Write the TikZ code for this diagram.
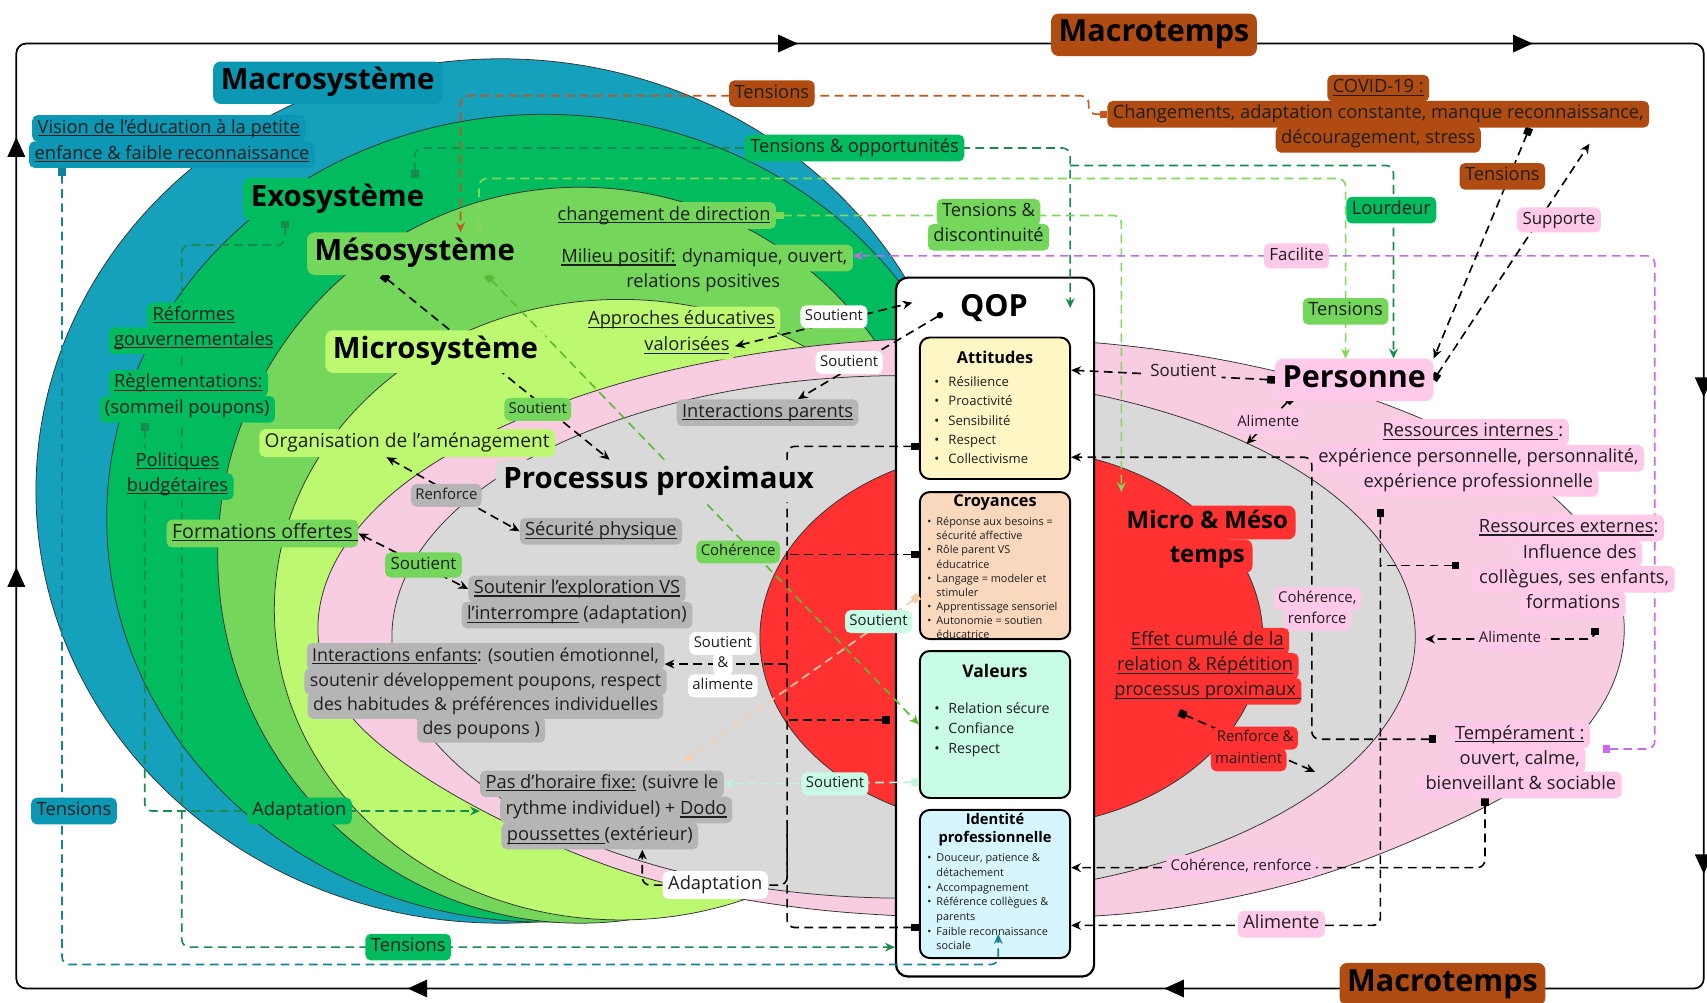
\documentclass[tikz,border=0pt]{standalone}
\usepackage{fontspec}
\setmainfont{Open Sans}
\usetikzlibrary{arrows.meta,decorations.markings,calc}
\pgfdeclarelayer{bg}\pgfdeclarelayer{lines}\pgfsetlayers{bg,lines,main}
\definecolor{macroE}{HTML}{15A0BB}
\definecolor{macroL}{HTML}{0C98B4}
\definecolor{exoE}{HTML}{00BC5E}
\definecolor{mesoE}{HTML}{74D65A}
\definecolor{microE}{HTML}{BDF970}
\definecolor{pinkE}{HTML}{F8CCE1}
\definecolor{pinkL}{HTML}{FFC9E9}
\definecolor{grayE}{HTML}{D9D9D9}
\definecolor{grayL}{HTML}{B5B5B5}
\definecolor{redE}{HTML}{FF3131}
\definecolor{brownL}{HTML}{B04B12}
\definecolor{attC}{HTML}{FFF6C6}
\definecolor{croC}{HTML}{FAD8BE}
\definecolor{valC}{HTML}{C8FCE6}
\definecolor{idC}{HTML}{D6F5FC}
\definecolor{lnDG}{HTML}{178C4C}
\definecolor{lnLG}{HTML}{7FD957}
\definecolor{lnMG}{HTML}{5DBA35}
\definecolor{lnBR}{HTML}{C2561C}
\definecolor{lnTE}{HTML}{13829A}
\definecolor{lnPU}{HTML}{C66CE8}
\definecolor{lnPE}{HTML}{F8CDAA}
\definecolor{lnMI}{HTML}{BDF5DE}
\definecolor{txt}{HTML}{1E1E1E}
\newcommand{\bul}{\makebox[13pt][l]{\textbullet}}
\newcommand{\buls}{\makebox[13pt][c]{\textbullet}}
\newcommand{\cont}{\hspace*{13pt}}
\newcommand{\uln}[1]{\setbox0\hbox{#1}\rlap{\rule[-0.16em]{\wd0}{0.06em}}#1}
\tikzset{
  ell/.style={draw=black!80, line width=0.7pt},
  tag/.style={rounded corners=5pt, inner xsep=5pt, inner ysep=4pt, text height=12.5pt, text depth=4pt, font=\fontsize{16.8}{19}\selectfont, text=txt},
  tagb/.style={tag, font=\fontsize{18}{21}\selectfont, text height=13pt, text depth=4.5pt},
  tagm/.style={tag, font=\fontsize{15.5}{18}\selectfont, text height=11.5pt, text depth=3.5pt},
  tags/.style={tag, font=\fontsize{13.7}{16}\selectfont, text height=10pt, text depth=3pt, inner ysep=4pt, inner xsep=4pt},
  ttl/.style={rounded corners=7pt, inner xsep=7pt, inner ysep=6pt, text height=20pt, text depth=7pt, font=\fontsize{27}{31}\selectfont\bfseries, text=black},
  comp/.style={draw=black, line width=1.8pt, rounded corners=9pt, minimum width=138pt, inner sep=0pt},
  cn/.style={line width=1.5pt, dash pattern=on 8pt off 5pt, rounded corners=7pt},
  sqar/.style={arrows={Square[length=7pt,width=7pt]-Stealth[length=9pt,width=8pt]}},
  sqno/.style={arrows={Square[length=7pt,width=7pt]-}},
  ar/.style={arrows={-Stealth[length=9pt,width=8pt]}},
  arar/.style={arrows={Stealth[length=9pt,width=8pt]-Stealth[length=9pt,width=8pt]}},
  dotar/.style={arrows={Circle[length=6pt]-Stealth[length=9pt,width=8pt]}},
}
\begin{document}
\begin{tikzpicture}[x=1pt,y=-1pt]
\useasboundingbox (0,0) rectangle (1568,921);
\begin{pgfonlayer}{bg}
\fill[white] (0,0) rectangle (1568,921);
\draw[line width=1.6pt, rounded corners=9pt, postaction={decorate}, decoration={markings,
  mark=at position 378pt with {\arrow{Triangle[length=18pt,width=16pt]}},
  mark=at position 773pt with {\arrow{Triangle[length=18pt,width=16pt]}},
  mark=at position 1573pt with {\arrow{Triangle[length=18pt,width=16pt]}},
  mark=at position 2248pt with {\arrow{Triangle[length=18pt,width=16pt]}},
  mark=at position 2726pt with {\arrow{Triangle[length=18pt,width=16pt]}},
  mark=at position 3164pt with {\arrow{Triangle[length=18pt,width=16pt]}},
  mark=at position 3761pt with {\arrow{Triangle[length=18pt,width=16pt]}},
  mark=at position 4456pt with {\arrow{Triangle[length=18pt,width=16pt]}}}]
  (15,908) -- (15,40) -- (1565,40) -- (1565,908) -- cycle;
\draw[ell, fill=macroE] (460,451) ellipse [x radius=427, y radius=397];
\draw[ell, fill=exoE] (500,476) ellipse [x radius=402, y radius=371];
\draw[ell, fill=mesoE] (533,510) ellipse [x radius=333, y radius=338];
\draw[ell, fill=microE] (570,560) ellipse [x radius=318, y radius=285];
\draw[ell, fill=pinkE] plot[smooth cycle, tension=0.6] coordinates {
  (1492,578) (1472,509) (1412,444) (1316,389) (1192,346) (1047,319) (892,310)
  (737,319) (592,346) (468,389) (372,444) (312,509) (292,578) (313,645)
  (370,700) (468,757) (592,806) (737,834) (892,843) (1047,838) (1192,810)
  (1316,764) (1412,712) (1472,647)};
\draw[ell, fill=grayE] (830,585) ellipse [x radius=470, y radius=240];
\draw[ell, fill=redE] (929,586) ellipse [x radius=231, y radius=174];
% QOP
\node[draw=black, line width=2pt, rounded corners=11pt, fill=white, minimum width=182pt, minimum height=642pt, inner sep=0pt] (qop) at (914,576) {};
\node[font=\fontsize{28}{32}\selectfont\bfseries, text=black] (qopT) at (913,283) {QOP};
\node[comp, fill=attC, minimum height=130pt] (attitudes) at (914,375) {};
\node[font=\fontsize{15}{18}\selectfont\bfseries] (attT) at (914,328) {Attitudes};
\node[anchor=north west, inner sep=0pt, align=left, font=\fontsize{12}{17.5}\selectfont, text=txt] (attL) at (858,346) {\bul Résilience\\ \bul Proactivité\\ \bul Sensibilité\\ \bul Respect\\ \bul Collectivisme};
\node[comp, fill=croC, minimum height=135pt] (croyances) at (914,519.5) {};
\node[font=\fontsize{15}{18}\selectfont\bfseries] (croT) at (914,462) {Croyances};
\node[anchor=north west, inner sep=0pt, align=left, font=\fontsize{10}{13}\selectfont, text=txt] (croL) at (847,475) {\buls Réponse aux besoins =\\ \cont sécurité affective\\ \buls Rôle parent VS\\ \cont éducatrice\\ \buls Langage = modeler et\\ \cont stimuler\\ \buls Apprentissage sensoriel\\ \buls Autonomie = soutien\\ \cont éducatrice};
\node[comp, fill=valC, minimum height=135pt] (valeurs) at (914,665.5) {};
\node[font=\fontsize{16}{19}\selectfont\bfseries] (valT) at (914,616) {Valeurs};
\node[anchor=north west, inner sep=0pt, align=left, font=\fontsize{13}{18.5}\selectfont, text=txt] (valL) at (858,645) {\bul Relation sécure\\ \bul Confiance\\ \bul Respect};
\node[comp, fill=idC, minimum height=136pt] (identite) at (914,812) {};
\node[align=center, font=\fontsize{13.5}{17}\selectfont\bfseries] (idT) at (914,762) {Identité\\professionnelle};
\node[anchor=north west, inner sep=0pt, align=left, font=\fontsize{10}{13.5}\selectfont, text=txt] (idL) at (847,784) {\buls Douceur, patience \&\\ \cont détachement\\ \buls Accompagnement\\ \buls Référence collègues \&\\ \cont parents\\ \buls Faible reconnaissance\\ \cont sociale};
\end{pgfonlayer}

% titles
\node[ttl, fill=macroL] (macro) at (301,76) {Macrosystème};
\node[ttl, fill=exoE] (exo) at (310,183) {Exosystème};
\node[ttl, fill=mesoE] (meso) at (381,233) {Mésosystème};
\node[ttl, fill=microE] (micro) at (400,323) {Microsystème};
\node[ttl, fill=grayE] (proc) at (605,442) {Processus proximaux};
\node[ttl, fill=pinkL, font=\fontsize{28}{32}\selectfont\bfseries] (personne) at (1244,349) {Personne};
\node[ttl, fill=brownL, font=\fontsize{28}{32}\selectfont\bfseries] (mtTop) at (1060,32) {Macrotemps};
\node[ttl, fill=brownL, font=\fontsize{28}{32}\selectfont\bfseries] (mtBot) at (1325,904) {Macrotemps};
\node[ttl, fill=redE, font=\fontsize{22}{26}\selectfont\bfseries, text height=17pt, text depth=6pt, inner ysep=4pt] (mms1) at (1109,480) {Micro \& Méso};
\node[ttl, fill=redE, font=\fontsize{22}{26}\selectfont\bfseries, text height=17pt, text depth=6pt, inner ysep=4pt] (mms2) at (1109,511) {temps};

% blue
\node[tag, fill=macroL] (vis1) at (155,118) {\uln{Vision de l’éducation à la petite}};
\node[tag, fill=macroL] (vis2) at (158,142) {\uln{enfance \& faible reconnaissance}};
\node[tag, fill=macroL] (tensB) at (68,745) {Tensions};
% dark green
\node[tag, fill=exoE] (tensopp) at (785,136) {Tensions \& opportunités};
\node[tag, fill=exoE] (ref1) at (178,290) {\uln{Réformes}};
\node[tag, fill=exoE] (ref2) at (178,313) {\uln{gouvernementales}};
\node[tag, fill=exoE] (reg1) at (173,352) {\uln{Règlementations:}};
\node[tag, fill=exoE] (reg2) at (172,376) {(sommeil poupons)};
\node[tag, fill=exoE] (pol1) at (163,424) {\uln{Politiques}};
\node[tag, fill=exoE] (pol2) at (163,447) {\uln{budgétaires}};
\node[tag, fill=exoE] (lourd) at (1278,193) {Lourdeur};
\node[tag, fill=exoE] (adaptG) at (275,745) {Adaptation};
\node[tag, fill=exoE] (tensG) at (375,870) {Tensions};
% medium green
\node[tag, fill=mesoE] (chg) at (610,198) {\uln{changement de direction}};
\node[tag, fill=mesoE] (mil1) at (647,237) {\uln{Milieu positif:} dynamique, ouvert,};
\node[tag, fill=mesoE] (mil2) at (646,260) {relations positives};
\node[tag, fill=mesoE] (td1) at (908,195) {Tensions \&};
\node[tag, fill=mesoE] (td2) at (908,218) {discontinuité};
\node[tagb, fill=mesoE] (form) at (241,490) {\uln{Formations offertes }};
\node[tagm, fill=mesoE] (soutG1) at (389,519) {Soutient};
\node[tags, fill=mesoE] (soutG2) at (494,376) {Soutient};
\node[tags, fill=mesoE] (coh) at (678,507) {Cohérence};
\node[tag, fill=mesoE] (tensLG) at (1236,286) {Tensions};
% light green
\node[tag, fill=microE] (app1) at (626,294) {\uln{Approches éducatives}};
\node[tag, fill=microE] (app2) at (631,318) {\uln{valorisées}};
\node[tagb, fill=microE, font=\fontsize{17.6}{21}\selectfont] (org) at (374,407) {Organisation de l’aménagement};
% gray
\node[tag, fill=grayL] (ipar) at (705,379) {\uln{Interactions parents}};
\node[tags, fill=grayL] (renf) at (410,455) {Renforce};
\node[tag, fill=grayL] (secu) at (552,488) {\uln{Sécurité physique}};
\node[tag, fill=grayL] (sexp1) at (530,541) {\uln{Soutenir l’exploration VS}};
\node[tag, fill=grayL] (sexp2) at (530,565) {\uln{l’interrompre} (adaptation)};
\node[tag, fill=grayL, font=\fontsize{16.3}{19}\selectfont] (ienf1) at (446,603) {\uln{Interactions enfants}: (soutien émotionnel,};
\node[tag, fill=grayL, font=\fontsize{16.3}{19}\selectfont] (ienf2) at (446,626) {soutenir développement poupons, respect};
\node[tag, fill=grayL, font=\fontsize{16.3}{19}\selectfont] (ienf3) at (446,648) {des habitudes \& préférences individuelles};
\node[tag, fill=grayL, font=\fontsize{16.3}{19}\selectfont] (ienf4) at (442,670) {des poupons )};
\node[tag, fill=grayL] (pas1) at (553,720) {\uln{Pas d’horaire fixe:} (suivre le};
\node[tag, fill=grayL] (pas2) at (566,744) {rythme individuel) + \uln{Dodo}};
\node[tag, fill=grayL] (pas3) at (551,768) {\uln{poussettes }(extérieur)};
% white
\node[tags, fill=white] (soutW1) at (766,291) {Soutient};
\node[tags, fill=white] (soutW2) at (780,333) {Soutient};
\node[tags, fill=white] (sa1) at (664,591) {Soutient};
\node[tags, fill=white] (sa2) at (664,610) {\&};
\node[tags, fill=white] (sa3) at (664,630) {alimente};
\node[tagb, fill=white, font=\fontsize{16.8}{20}\selectfont] (adaptW) at (657,813) {Adaptation};
% pink
\node[tagm, fill=pinkL] (facil) at (1191,235) {Facilite};
\node[tagm, fill=pinkL] (supp) at (1432,202) {Supporte};
\node[tagm, fill=pinkE] (soutP) at (1087,342) {Soutient};
\node[tags, fill=pinkL] (alim1) at (1165,388) {Alimente};
\node[tag, fill=pinkL] (ri1) at (1353,397) {\uln{Ressources internes }:};
\node[tag, fill=pinkL] (ri2) at (1358,421) {expérience personnelle, personnalité,};
\node[tag, fill=pinkL] (ri3) at (1358,444) {expérience professionnelle};
\node[tag, fill=pinkL] (re1) at (1441,485) {\uln{Ressources externes}:};
\node[tag, fill=pinkL] (re2) at (1451,509) {Influence des};
\node[tag, fill=pinkL] (re3) at (1446,532) {collègues, ses enfants,};
\node[tag, fill=pinkL] (re4) at (1445,555) {formations};
\node[tags, fill=pinkL] (alim2) at (1387,587) {Alimente};
\node[tags, fill=pinkL] (cohP1) at (1210,550) {Cohérence,};
\node[tags, fill=pinkL] (cohP2) at (1210,569) {renforce};
\node[tag, fill=pinkL] (temp1) at (1396,675) {\uln{Tempérament :}};
\node[tag, fill=pinkL] (temp2) at (1396,698) {ouvert, calme,};
\node[tag, fill=pinkL] (temp3) at (1397,721) {bienveillant \& sociable};
\node[tags, fill=pinkL] (cohP3) at (1140,796) {Cohérence, renforce};
\node[tag, fill=pinkL] (alim3) at (1177,849) {Alimente};
% red
\node[tag, fill=redE] (eff1) at (1109,589) {\uln{Effet cumulé de la}};
\node[tag, fill=redE] (eff2) at (1107,612) {\uln{relation \& Répétition}};
\node[tag, fill=redE] (eff3) at (1107,635) {\uln{processus proximaux }};
\node[tags, fill=redE] (rm1) at (1153,678) {Renforce \&};
\node[tags, fill=redE] (rm2) at (1147,698) {maintient};
% brown
\node[tag, fill=brownL] (tensBr1) at (709,86) {Tensions};
\node[tag, fill=brownL] (tensBr2) at (1380,162) {Tensions};
\node[tag, fill=brownL] (cov1) at (1266,81) {\uln{COVID-19 :}};
\node[tag, fill=brownL] (cov2) at (1266,105) {Changements, adaptation constante, manque reconnaissance,};
\node[tag, fill=brownL] (cov3) at (1266,128) {découragement, stress};
% mint
\node[tags, fill=valC] (soutM1) at (807,571) {Soutient};
\node[tags, fill=valC] (soutM2) at (767,720) {Soutient};

\begin{pgfonlayer}{lines}
% brown
\coordinate (bA) at (1000,88);
\coordinate (bB) at (423,88);
\draw[cn, lnBR, sqar] (cov2.west) -| (bA) -- (bB) -- (bB |- meso.north);
% dark green
\coordinate (gA) at (983,136);
\coordinate (gEnd) at (983,283);
\draw[cn, lnDG, sqar] ([xshift=71pt]exo.north) |- (gA) -- (gEnd);
\coordinate (gB) at (983,152);
\coordinate (gC) at (1280,152);
\draw[cn, lnDG, ar] (gB) -- (gC) -- (gC |- personne.north);
\coordinate (gD) at (167,225);
\coordinate (gE) at (167,870);
\draw[cn, lnDG, sqar] ([xshift=-48pt]exo.south) |- (gD) -- (gE) -- (gE -| qop.west);
\coordinate (gF) at (133,745);
\draw[cn, lnDG, sqar] ([xshift=-39pt]reg2.south) -- (gF) -- (gF -| pas1.west);
% teal
\coordinate (tA) at (57,886);
\coordinate (tB) at (917,886);
\coordinate (tEnd) at (917,858);
\draw[cn, lnTE, sqar] (vis2.south -| tA) -- (tA) -- (tB) -- (tEnd);
% light green
\coordinate (lA) at (1236,164);
\draw[cn, lnLG, sqar] ([xshift=59pt]meso.north) |- (lA) -- (lA |- personne.north);
\coordinate (lB) at (1030,198);
\coordinate (lEnd) at (1030,452);
\draw[cn, lnLG, sqar] (chg.east) -- (lB) -- (lEnd);
% coherence
\draw[cn, lnMG, sqar] ([xshift=66pt]meso.south) -- (valeurs.west);
% purple
\coordinate (pS) at (1472,688);
\coordinate (pA) at (1520,688);
\coordinate (pB) at (1520,235);
\draw[cn, lnPU, sqar] (pS) -- (pA) -- (pB) -- (pB -| mil1.east);
% black
\coordinate (q1) at (838,278);
\draw[cn, black, arar] (app2.east) -- (q1);
\coordinate (q2) at (866,288);
\draw[cn, black, dotar] (q2) -- ([xshift=28pt]ipar.north);
\draw[cn, black, sqar] ([xshift=-30pt]meso.south) -- ([xshift=-45pt]proc.north);
\draw[cn, black, arar] ([xshift=-19pt]org.south) -- (secu.west);
\draw[cn, black, arar] (form.east) -- (sexp1.west);
\coordinate (bus1) at (723,410);
\coordinate (bus2) at (723,813);
\draw[cn, black, sqno] ([yshift=-35pt]attitudes.west) -- (bus1) -- (bus2) -- (adaptW.east);
\draw[cn, black, ar] (adaptW.west) -| ([xshift=39pt]pas3.south);
\coordinate (crS) at ([yshift=10pt]croyances.west);
\draw[cn, black, sqno] (crS) -- (crS -| bus1);
\coordinate (vaS) at ([xshift=-27pt,yshift=4pt]valeurs.west);
\draw[cn, black, sqno] (vaS) -- (vaS -| bus1);
\coordinate (idS) at ([yshift=-40pt]identite.west);
\coordinate (idJ) at (723,755);
\draw[cn, black, sqno] (idS) -| (idJ);
\coordinate (saJ) at (723,610);
\draw[cn, black, ar] (saJ) -- (saJ -| ienf1.east);
% personne
\draw[cn, black, sqar] (personne.west) -- ([yshift=35pt]attitudes.east);
\coordinate (aE) at (1145,408);
\draw[cn, black, sqar] ([xshift=16pt,yshift=4pt]personne.south west) -- (aE);
\draw[cn, black, sqar] ([xshift=139pt]cov2.south) -- (personne.north east);
\coordinate (sE) at (1460,132);
\draw[cn, black, sqar] (personne.east) -- (sE);
\coordinate (kA) at (1205,420);
\draw[cn, black, sqar] ([xshift=-12pt,yshift=-4pt]temp1.west) -| (kA) -- ([yshift=-45pt]attitudes.east);
\coordinate (rB) at (1268,850);
\draw[cn, black, sqar] ([xshift=-90pt,yshift=-11pt]ri3.south) -- (rB) -- ([yshift=-38pt]identite.east);
\draw[cn, black, sqno] ([xshift=-13pt]re3.north west) -- (re3.north west -| rB);
\coordinate (aE2) at (1309,587);
\draw[cn, black, sqar] ([xshift=20pt,yshift=-9pt]re4.south) |- (aE2);
\draw[cn, black, sqar] ([xshift=-33pt]temp3.south) |- ([yshift=15pt]identite.east);
\coordinate (rmE) at (1208,709);
\draw[cn, black, sqar] ([xshift=-24pt,yshift=-7pt]eff3.south) -- (rmE);
% peach & mint
\coordinate (peE) at (628,700);
\draw[cn, lnPE, sqar] ([yshift=-28pt]croyances.west) -- (peE);
\draw[cn, lnMI, sqar] ([yshift=-53pt]valeurs.west) -- (pas1.east);
\end{pgfonlayer}
\end{tikzpicture}
\end{document}
